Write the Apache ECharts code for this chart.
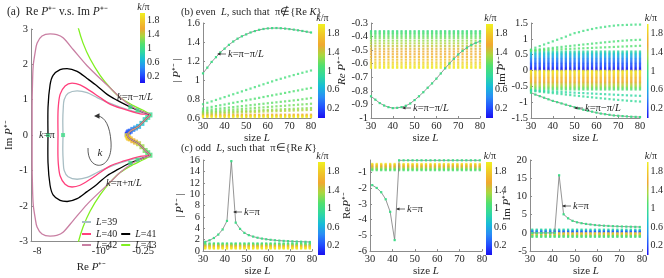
<!DOCTYPE html>
<html><head><meta charset="utf-8">
<script src="https://cdn.jsdelivr.net/npm/echarts@6/dist/echarts.min.js"></script>
<style>html,body{margin:0;padding:0;background:#fff}#c{width:664px;height:278px}</style>
</head><body><div id="c"></div>
<script>
// ---------- DATA ----------
const L_even = [30,32,34,36,38,40,42,44,46,48,50,52,54,56,58,60,62,64,66,68,70,72,74,76,78,80];
const L_odd = [31,33,35,37,39,41,43,45,47,49,51,53,55,57,59,61,63,65,67,69,71,73,75,77,79];

// panel (a): Re P, Im P along k for each L (upper branch from k=pi point to tip), shared C-part
const a39_re = [-3.42,-3.45,-3.40,-3.30,-2.90,-2.16,-1.56,-1.125,-0.81,-0.53,-0.35];
const a39_im = [0,0.4,0.75,1.0,1.18,1.25,1.2,1.06,0.93,0.79,0.68];
const a39_imLow = [0,-0.4,-0.75,-1.0,-1.18,-1.25,-1.2,-1.06,-0.93,-0.79,-0.68];
const a40_re = [-4.03,-4.05,-4.0,-3.77,-3.2,-2.55,-1.96,-1.41,-1.02,-0.73,-0.48,-0.275];
const a40_im = [0,0.4,0.79,1.15,1.39,1.47,1.42,1.25,1.06,0.87,0.74,0.6];
const a40_imLow = [0,-0.4,-0.79,-1.15,-1.39,-1.47,-1.42,-1.25,-1.06,-0.87,-0.74,-0.6];
const a41_re = [-5.59,-5.62,-5.59,-5.23,-4.74,-3.77,-3.0,-2.16,-1.56,-1.125,-0.81,-0.58,-0.38,-0.25];
const a41_im = [0,0.4,0.79,1.42,1.69,1.85,1.88,1.8,1.6,1.39,1.15,0.98,0.79,0.65];
const a41_imLow = [0,-0.4,-0.79,-1.42,-1.69,-1.85,-1.88,-1.8,-1.6,-1.39,-1.15,-0.98,-0.79,-0.65];
const a42_re = [-9.4,-9.4,-9.3,-9.07,-8.5,-8.0,-6.8,-5.23,-4.2,-3.42,-2.46,-1.56,-1.02,-0.73,-0.53,-0.35,-0.25];
const a42_im = [0,0.8,1.4,1.96,2.35,2.6,2.8,2.86,2.84,2.75,2.42,1.96,1.6,1.33,1.06,0.79,0.65];
const a42_imLow = [0,-0.8,-1.4,-1.96,-2.35,-2.6,-2.8,-2.86,-2.84,-2.75,-2.42,-1.96,-1.6,-1.33,-1.06,-0.79,-0.65];
const a43_re = [-2.4,-2.09,-1.78,-1.41,-1.02,-0.73,-0.53,-0.35,-0.25];
const a43_im = [3.6,3.05,2.6,2.15,1.69,1.33,1.06,0.84,0.7];
const a43_imLow = [-3.6,-3.05,-2.6,-2.15,-1.69,-1.33,-1.06,-0.84,-0.7];
const aC_re = [-0.20,-0.234,-0.29,-0.38,-0.42];
const aC_im = [0.57,0.436,0.245,0.11,0];
const aC_imLow = [-0.57,-0.436,-0.245,-0.11,0];
// coloured k-points on the C part
const aDot_re = [-0.42,-0.41,-0.40,-0.38,-0.35,-0.32,-0.29,-0.26,-0.234,-0.215,-0.2];
const aDot_im = [0.02,0.06,0.09,0.11,0.16,0.2,0.245,0.33,0.436,0.5,0.57];
const aDot_k = [0.05,0.15,0.25,0.3,0.4,0.5,0.6,0.7,0.8,0.9,0.95];
const aDot_imLow = [-0.02,-0.06,-0.09,-0.11,-0.16,-0.2,-0.245,-0.33,-0.436,-0.5,-0.57];
const aDot_kLow = [1.95,1.85,1.75,1.7,1.6,1.5,1.4,1.3,1.2,1.1,1.05];
// k = pi points and near-tip green points
const aPi_re = [-5.59,-3.42,-0.38,-0.3,-0.38,-0.3];
const aPi_im = [0,0,0.79,0.7,-0.79,-0.7];

// panel (b1) |P| even L
const b1_edge = [1.07,1.13,1.19,1.24,1.29,1.33,1.37,1.405,1.435,1.46,1.48,1.50,1.515,1.528,1.537,1.543,1.546,1.547,1.545,1.541,1.536,1.53,1.523,1.516,1.508,1.50];
const b1_row1 = [0.745,0.76,0.775,0.79,0.805,0.82,0.835,0.85,0.865,0.88,0.895,0.91,0.925,0.94,0.955,0.97,0.985,1.0,1.013,1.026,1.039,1.052,1.064,1.076,1.088,1.1];
const b1_row2 = [0.70,0.708,0.717,0.725,0.734,0.742,0.751,0.76,0.768,0.777,0.786,0.795,0.803,0.812,0.821,0.83,0.838,0.847,0.855,0.864,0.873,0.882,0.89,0.899,0.908,0.916];
const b1_row3 = [0.68,0.685,0.69,0.695,0.70,0.705,0.71,0.715,0.72,0.725,0.73,0.735,0.74,0.745,0.75,0.755,0.76,0.765,0.77,0.775,0.78,0.785,0.79,0.797,0.803,0.81];
const b1_row4 = [0.665,0.668,0.672,0.675,0.678,0.682,0.685,0.689,0.692,0.695,0.699,0.702,0.706,0.709,0.712,0.716,0.719,0.723,0.726,0.729,0.733,0.736,0.74,0.743,0.746,0.75];
const b1_row5 = [0.655,0.657,0.659,0.661,0.663,0.665,0.667,0.669,0.671,0.673,0.675,0.677,0.679,0.681,0.683,0.685,0.687,0.689,0.691,0.693,0.695,0.697,0.699,0.701,0.703,0.705];
const b1_row6 = [0.645,0.647,0.648,0.65,0.651,0.653,0.655,0.656,0.658,0.66,0.661,0.663,0.664,0.666,0.668,0.669,0.671,0.672,0.674,0.676,0.677,0.679,0.68,0.682,0.684,0.685];
const b1_rowK = [1.05,1.1,1.15,1.2,1.25,1.35];
const b1_base = [0.635,0.626,0.618,0.61];
const b1_baseK = [1.55,1.75,1.88,1.97];

// panel (b2) Re P even L
const b2_edge = [-0.84,-0.865,-0.89,-0.908,-0.92,-0.927,-0.925,-0.92,-0.91,-0.893,-0.868,-0.84,-0.81,-0.777,-0.745,-0.71,-0.672,-0.634,-0.598,-0.564,-0.532,-0.505,-0.482,-0.462,-0.447,-0.435];
const b2_lv = [-0.36,-0.37,-0.38,-0.395,-0.41,-0.43,-0.45,-0.47,-0.49,-0.51,-0.53,-0.55,-0.57,-0.59,-0.605,-0.62,-0.63];
const b2_lvK = [1.02,1.06,1.1,1.15,1.2,1.28,1.35,1.42,1.48,1.54,1.6,1.66,1.72,1.8,1.87,1.94,1.98];

// panel (b3) Im P even L
const b3_edge = [-0.70,-0.76,-0.81,-0.86,-0.91,-0.96,-1.0,-1.04,-1.08,-1.12,-1.16,-1.2,-1.24,-1.27,-1.3,-1.33,-1.36,-1.38,-1.40,-1.42,-1.43,-1.44,-1.45,-1.46,-1.465,-1.47];
const b3_up1 = [0.66,0.72,0.77,0.82,0.87,0.92,0.97,1.02,1.07,1.13,1.18,1.21,1.25,1.28,1.31,1.34,1.36,1.38,1.40,1.415,1.43,1.435,1.44,1.445,1.45,1.45];
const b3_up2 = [0.64,0.655,0.67,0.685,0.70,0.715,0.73,0.745,0.76,0.775,0.79,0.805,0.82,0.834,0.848,0.862,0.876,0.89,0.903,0.916,0.928,0.94,0.95,0.958,0.965,0.97];
const b3_up3 = [0.63,0.636,0.642,0.648,0.654,0.66,0.666,0.672,0.678,0.684,0.69,0.696,0.702,0.708,0.714,0.72,0.726,0.732,0.738,0.744,0.75,0.756,0.762,0.768,0.774,0.78];
const b3_lo2 = [-0.64,-0.655,-0.67,-0.685,-0.70,-0.715,-0.73,-0.745,-0.76,-0.775,-0.79,-0.805,-0.82,-0.834,-0.848,-0.862,-0.876,-0.89,-0.903,-0.916,-0.928,-0.94,-0.952,-0.962,-0.972,-0.98];
const b3_lo3 = [-0.63,-0.637,-0.644,-0.651,-0.658,-0.665,-0.672,-0.679,-0.686,-0.693,-0.70,-0.707,-0.714,-0.721,-0.728,-0.735,-0.742,-0.749,-0.756,-0.763,-0.77,-0.777,-0.784,-0.79,-0.795,-0.80];
const b3_rowK = [1.03,1.08,1.12,0.92,0.88];
const b3_lv = [0.60,0.56,0.52,0.48,0.44,0.40,0.36,0.32,0.28,0.24,0.20,0.16,0.12,0.08,0.04,0.01,-0.01,-0.04,-0.08,-0.12,-0.16,-0.20,-0.24,-0.28,-0.32,-0.36,-0.40,-0.44,-0.48,-0.52,-0.56,-0.60];
const b3_lvK = [0.9,0.8,0.72,0.65,0.58,0.52,0.46,0.4,0.35,0.3,0.26,0.21,0.16,0.11,0.06,0.02,1.98,1.94,1.89,1.84,1.79,1.74,1.7,1.65,1.6,1.54,1.48,1.42,1.35,1.28,1.2,1.1];

// panel (c1) |P| odd L
const c1_edge = [1.62,1.9,2.3,2.9,3.8,5.3,15.8,5.0,3.9,3.2,2.8,2.55,2.35,2.2,2.08,1.98,1.9,1.84,1.79,1.75,1.71,1.68,1.65,1.63,1.6];
const c1_lv = [1.35,1.25,1.15,1.05,0.95,0.85,0.75,0.65,0.55,0.45];
const c1_lvK = [1.02,1.08,1.15,1.25,1.35,1.5,1.65,1.8,1.9,1.97];
// panel (c2) Re P odd L
const c2_edge = [-1.8,-1.98,-2.25,-2.7,-3.5,-5.3,-0.22,-0.22,-0.22,-0.22,-0.22,-0.22,-0.22,-0.22,-0.22,-0.22,-0.22,-0.22,-0.22,-0.22,-0.22,-0.22,-0.22,-0.22,-0.22];
const c2_lv = [-0.45,-0.5,-0.55,-0.6,-0.65,-0.7,-0.75,-0.8,-0.85];
const c2_lvK = [1.95,1.85,1.75,1.6,1.5,1.4,1.3,1.2,1.1];
// panel (c3) Im P odd L
const c3_edge = [0,0,0,0,0,0,15.8,5.1,4.0,3.3,2.9,2.65,2.45,2.3,2.15,2.05,1.97,1.9,1.84,1.79,1.75,1.71,1.68,1.65,1.62];
const c3_lv = [0.9,0.7,0.5,0.3,0.1,-0.1,-0.3,-0.5,-0.7,-0.9,-1.1];
const c3_lvK = [0.95,0.75,0.55,0.35,0.15,1.9,1.7,1.5,1.3,1.15,1.05];

const cbTicks = [0.2,0.6,1,1.4,1.8];
const cmap = ['#1a0ff0','#2250ff','#2a8cf5','#18bcd8','#30d8a0','#50e070','#a8d840','#f0a830','#f0c828','#f0f020'];

// ---------- BUILD ----------
const FONT = 'Liberation Serif', TXT = '#262626', AX = '#8c8c8c', LINEC = '#7a7a7a', GREEN = '#40dc88';
const richI = {i:{fontStyle:'italic', fontFamily:FONT, fontSize:11, color:TXT}};
const grids = [
  {left:31, top:29, width:121, height:219},
  {left:203, top:23, width:108, height:95},
  {left:371, top:23, width:109, height:95},
  {left:531, top:23, width:109, height:95},
  {left:203, top:160, width:109, height:95},
  {left:370, top:160, width:112, height:95},
  {left:530, top:160, width:112, height:95}
];
const cbPos = [
  [140,13,5,70],[318,24,7,94],[486,24,7,94],[647,24,6,94],[318,162,7,93],[486,162,6,93],[647,162,6,93]
];
const grad = () => new echarts.graphic.LinearGradient(0,1,0,0, cmap.map((c,i)=>({offset:i/(cmap.length-1), color:c})));
cbPos.forEach(p => grids.push({left:p[0], top:p[1], width:p[2], height:p[3], show:true, borderWidth:0, backgroundColor:grad()}));

function axBase(gi, extra) {
  return Object.assign({
    gridIndex: gi, type:'value', splitLine:{show:false},
    axisLine:{show:true, onZero:false, lineStyle:{color:AX, width:1}},
    axisTick:{show:true, inside:true, length:2, lineStyle:{color:AX}},
    axisLabel:{color:TXT, fontSize:10.5, fontFamily:FONT, margin:3},
    nameTextStyle:{color:TXT, fontSize:11, fontFamily:FONT, rich:richI}
  }, extra);
}
const xAxes = [], yAxes = [];
// (a)
xAxes.push(axBase(0, {type:'log', logBase:2, min:0.187, max:9.75, inverse:true,
  axisTick:{show:false},
  axisLabel:{color:TXT, fontSize:10.5, fontFamily:FONT, margin:5, formatter:v=>{
    if (Math.abs(v-8)<1e-3) return '-8'; if (Math.abs(v-1)<1e-3) return '-10⁰'; if (Math.abs(v-0.25)<1e-3) return '-0.25'; return '';}},
  name:'Re {i|P}⁺⁻', nameLocation:'middle', nameGap:17}));
yAxes.push(axBase(0, {min:-3, max:3, interval:1, name:'Im {i|P}⁺⁻', nameLocation:'middle', nameGap:16}));
// b,c panels
const yCfg = [
  {min:0.6, max:1.6, interval:0.2, name:'| {i|P}⁺⁻ |', nameGap:13},
  {min:-1, max:-0.3, interval:0.1, name:'{i|Re P}⁺⁻', nameGap:19},
  {min:-1.5, max:1.5, interval:0.5, name:'Im {i|P}⁺⁻', nameGap:19},
  {min:0, max:16, interval:2, name:'| {i|P}⁺⁻ |', nameGap:13},
  {min:-6, max:-0.2, interval:1, name:'Re{i|P}⁺⁻', nameGap:17},
  {min:-5, max:20, interval:5, name:'Im {i|P}⁺⁻', nameGap:16}
];
yCfg.forEach((c,i) => {
  const gi = i+1;
  xAxes.push(axBase(gi, {min:30, max:80, interval:10, name:'size {i|L}', nameLocation:'middle', nameGap:11}));
  const y = axBase(gi, {min:c.min, max:c.max, interval:c.interval, name:c.name, nameLocation:'middle', nameGap:c.nameGap});
  if (gi === 5) y.axisLabel = Object.assign({}, y.axisLabel, {showMaxLabel:false});
  yAxes.push(y);
});
// colour bars
cbPos.forEach((p,i) => {
  const gi = 7+i;
  const ticks = (i===4) ? [0].concat(cbTicks) : cbTicks;
  xAxes.push({gridIndex:gi, type:'value', show:false, min:0, max:1});
  yAxes.push({gridIndex:gi, type:'value', position:'right', min:0, max:2, interval:0.2,
    axisLine:{show:false}, axisTick:{show:false}, splitLine:{show:false},
    axisLabel:{color:TXT, fontSize:10, fontFamily:FONT, margin:2, formatter:v=>{
      const r = Math.round(v*10)/10; return (ticks.indexOf(r)>=0 && Math.abs(v-r)<1e-6) ? String(r) : '';}}});
});

const series = [], colored = [];
function scatter(gi, data, size, z) {
  colored.push(series.length);
  series.push({type:'scatter', xAxisIndex:gi, yAxisIndex:gi, data:data, symbol:'rect', symbolSize:size||2.2, silent:true, z:z||2, animation:false});
}
function columns(Ls, lv, lvK) {
  const d = []; Ls.forEach(L => lv.forEach((v,j) => d.push([L, v, lvK[j]]))); return d;
}
function rows(Ls, arr, k) { return Ls.map((L,i) => [L, arr[i], k]); }
function edgeLine(gi, Ls, vals) {
  series.push({type:'line', xAxisIndex:gi, yAxisIndex:gi, data:Ls.map((L,i)=>[L, vals[i]]),
    lineStyle:{color:LINEC, width:0.8}, symbol:'rect', symbolSize:2.2, showSymbol:true,
    itemStyle:{color:GREEN}, silent:true, z:4, animation:false});
}

// (a) coloured C points
scatter(0, aDot_re.map((r,i)=>[Math.abs(r), aDot_im[i], aDot_k[i]]).concat(aDot_re.map((r,i)=>[Math.abs(r), aDot_imLow[i], aDot_kLow[i]])), 5, 2);
const aCurves = [
  ['L=39','#a8bec4',a39_re,a39_im,a39_imLow],
  ['L=40','#ff3f7c',a40_re,a40_im,a40_imLow],
  ['L=41','#000000',a41_re,a41_im,a41_imLow],
  ['L=43','#80f020',a43_re,a43_im,a43_imLow],
  ['L=42','#c97fa3',a42_re,a42_im,a42_imLow]
];
aCurves.forEach(c => {
  const re = c[2].concat(aC_re), up = c[3].concat(aC_im), lo = c[4].concat(aC_imLow);
  const d = re.map((r,i)=>[Math.abs(r), up[i]]);
  for (let i = re.length-1; i >= 0; i--) d.push([Math.abs(re[i]), lo[i]]);
  series.push({type:'line', name:c[0], xAxisIndex:0, yAxisIndex:0, data:d, smooth:0.3, showSymbol:false, symbol:'none',
    lineStyle:{color:c[1], width:1.3}, itemStyle:{color:c[1]}, silent:true, z:3, animation:false});
});
scatter(0, aPi_re.map((r,i)=>[Math.abs(r), aPi_im[i], 1]), 4, 5);

// (b1)
scatter(1, columns(L_even, b1_base, b1_baseK));
[b1_row1,b1_row2,b1_row3,b1_row4,b1_row5,b1_row6].forEach((r,i)=>scatter(1, rows(L_even, r, b1_rowK[i])));
edgeLine(1, L_even, b1_edge);
// (b2)
scatter(2, columns(L_even, b2_lv, b2_lvK));
edgeLine(2, L_even, b2_edge);
// (b3)
scatter(3, columns(L_even, b3_lv, b3_lvK));
[b3_up1,b3_up2,b3_up3,b3_lo2,b3_lo3].forEach((r,i)=>scatter(3, rows(L_even, r, b3_rowK[i])));
edgeLine(3, L_even, b3_edge);
// (c1..c3)
scatter(4, columns(L_odd, c1_lv, c1_lvK)); edgeLine(4, L_odd, c1_edge);
scatter(5, columns(L_odd, c2_lv, c2_lvK)); edgeLine(5, L_odd, c2_edge);
scatter(6, columns(L_odd, c3_lv, c3_lvK)); edgeLine(6, L_odd, c3_edge);

// ---------- annotations ----------
const T = (x,y,text,size,align,extra) => Object.assign({type:'text', x:x, y:y, silent:true, z:10, style:{text:text, fill:TXT,
  font:(size||11)+'px "'+FONT+'"', textAlign:align||'left', textVerticalAlign:'middle',
  rich:{i:{fontStyle:'italic', fontSize:size||11, fontFamily:FONT, fill:TXT}}}}, extra||{});
function arrowLabel(x, y, text) {
  return [
    {type:'line', shape:{x1:x+1, y1:y, x2:x+9, y2:y}, style:{stroke:'#333', lineWidth:0.7}, silent:true, z:10},
    {type:'polygon', shape:{points:[[x,y],[x+3.5,y-1.6],[x+3.5,y+1.6]]}, style:{fill:'#333'}, silent:true, z:10},
    T(x+11, y, text, 10.5)
  ];
}
const graphics = [
  T(7, 12, '(a)  Re {i|P}⁺⁻ v.s. Im {i|P}⁺⁻', 11.5),
  T(181, 12, '(b) even  {i|L}, such that  π∉\u007BRe {i|K}\u007D', 10.5),
  T(181, 148, '(c) odd  {i|L}, such that  π∈\u007BRe {i|K}\u007D', 10.5),
  T(39, 135, '{i|k}=π', 10.5),
  T(117, 97, '{i|k}=π−π/{i|L}', 10.5),
  T(106, 183, '{i|k}=π+π/{i|L}', 10.5),
  T(100, 153, '{i|k}', 11, 'center'),
  {type:'bezierCurve', shape:{x1:88, y1:148, cpx1:87, cpy1:172, cpx2:113, cpy2:172, x2:111, y2:142}, style:{stroke:'#333', fill:'none', lineWidth:0.8}, silent:true, z:10},
  {type:'bezierCurve', shape:{x1:111, y1:142, cpx1:110, cpy1:126, cpx2:105, cpy2:117, x2:98, y2:116}, style:{stroke:'#333', fill:'none', lineWidth:0.8}, silent:true, z:10},
  {type:'polygon', shape:{points:[[94,116],[99.5,113.3],[99.5,118.7]]}, style:{fill:'#333'}, silent:true, z:10}
].concat(arrowLabel(217, 54, '{i|k}=π−π/{i|L}'))
 .concat(arrowLabel(402, 108, '{i|k}=π−π/{i|L}'))
 .concat(arrowLabel(574, 108, '{i|k}=π−π/{i|L}'))
 .concat(arrowLabel(233, 212, '{i|k}=π'))
 .concat(arrowLabel(396, 209, '{i|k}=π'))
 .concat(arrowLabel(562, 206, '{i|k}=π'));
// colour-bar titles
cbPos.forEach(p => graphics.push(T(p[0]+p[2]/2+1, p[1]-6, '{i|k}/π', 10, 'center')));

const legendBase = {orient:'horizontal', padding:0, itemWidth:9, itemHeight:2, itemGap:4, icon:'rect',
  textStyle:{color:TXT, fontSize:10, fontFamily:FONT, rich:{i:{fontStyle:'italic', fontSize:10, fontFamily:FONT, color:TXT}}},
  formatter: n => '{i|L}' + n.slice(1)};
const legends = [
  Object.assign({}, legendBase, {data:['L=39'], left:82, top:217}),
  Object.assign({}, legendBase, {data:['L=40','L=41'], left:82, top:229}),
  Object.assign({}, legendBase, {data:['L=42','L=43'], left:82, top:240})
];

const chart = echarts.init(document.getElementById('c'), null, {renderer:'canvas', width:664, height:278});
chart.setOption({
  animation:false,
  backgroundColor:'#ffffff',
  textStyle:{fontFamily:FONT},
  grid:grids, xAxis:xAxes, yAxis:yAxes,
  legend:legends,
  visualMap:[{type:'continuous', show:false, min:0, max:2, dimension:2, seriesIndex:colored, inRange:{color:cmap}}],
  series:series,
  graphic:graphics
});
</script></body></html>
